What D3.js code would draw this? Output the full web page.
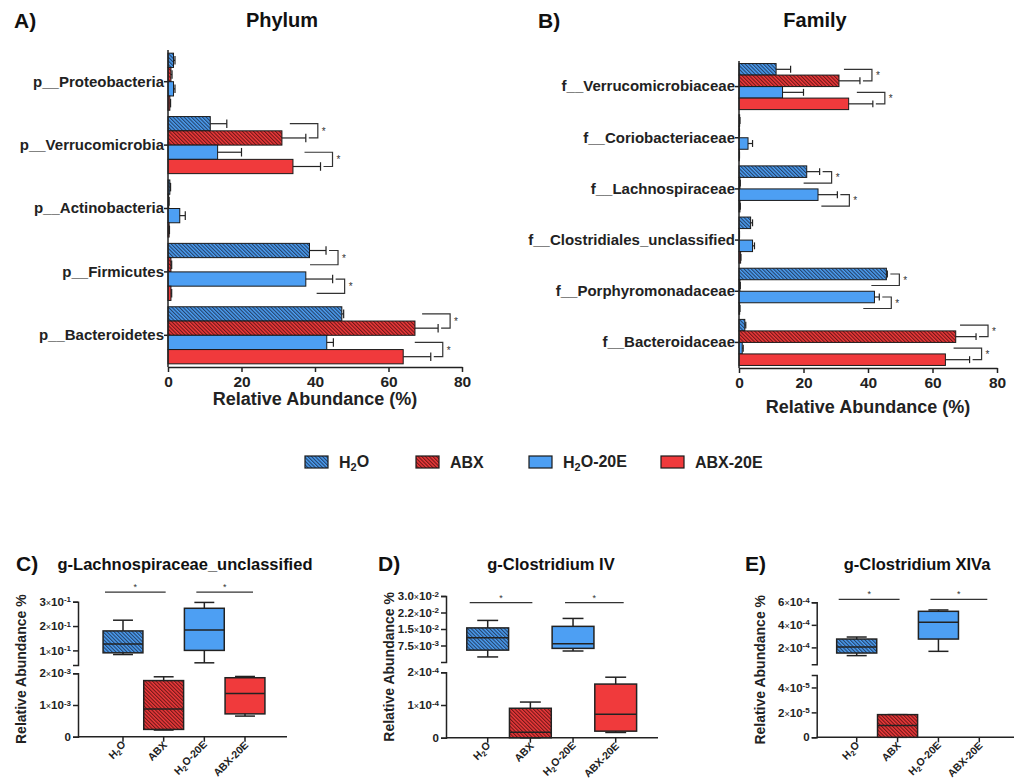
<!DOCTYPE html>
<html>
<head>
<meta charset="utf-8">
<title>Relative abundance</title>
<script src="https://d3js.org/d3.v7.min.js"></script>
<style>
  body { margin: 0; background: #fff; }
  svg { font-family: "Liberation Sans", Arial, sans-serif; }
  .axis path, .axis line { stroke: #222; stroke-width: 1.5; }
  .axis text { fill: #222; font-weight: bold; }
</style>
</head>
<body>
<svg id="fig" width="1014" height="783"></svg>
<script>
// ---- data ----
var groups = ["H2O", "ABX", "H2O-20E", "ABX-20E"];

var phyla = ["p__Proteobacteria", "p__Verrucomicrobia", "p__Actinobacteria", "p__Firmicutes", "p__Bacteroidetes"];
// rows = phyla, cols = groups (mean %)
var phylumMean = [
  [1.5, 0.8, 1.5, 0.5],
  [11.5, 31, 13.5, 34],
  [0.5, 0.2, 3.2, 0.3],
  [38.5, 0.8, 37.5, 0.8],
  [47.3, 67.2, 43.2, 64]
];
var phylumErr = [
  [0.4, 0.3, 0.4, 0.2],
  [4.5, 6.5, 6.5, 7.5],
  [0.2, 0.1, 1.5, 0.1],
  [4.5, 0.2, 7.3, 0.2],
  [0.5, 6.3, 1.8, 7.5]
];
// [category, group a, group b]
var phylumSig = [[1, 0, 1], [1, 2, 3], [3, 0, 1], [3, 2, 3], [4, 0, 1], [4, 2, 3]];

var families = ["f__Verrucomicrobiaceae", "f__Coriobacteriaceae", "f__Lachnospiraceae",
  "f__Clostridiales_unclassified", "f__Porphyromonadaceae", "f__Bacteroidaceae"];
var familyMean = [
  [11.5, 31, 13.5, 34],
  [0.2, 0.1, 2.8, 0.1],
  [21, 0.3, 24.5, 0.3],
  [3.6, 0.1, 4.2, 0.5],
  [45.7, 0.3, 42, 0.2],
  [1.8, 67.2, 1.0, 64]
];
var familyErr = [
  [4.5, 6.5, 6.5, 7.5],
  [0.1, 0.05, 1.4, 0.05],
  [4, 0.1, 6, 0.1],
  [0.6, 0.05, 0.6, 0.1],
  [0.3, 0.1, 1.5, 0.1],
  [0.3, 6.3, 0.3, 7.5]
];
var familySig = [[0, 0, 1], [0, 2, 3], [2, 0, 1], [2, 2, 3], [4, 0, 1], [4, 2, 3], [5, 0, 1], [5, 2, 3]];

var xTicks = [0, 20, 40, 60, 80];

// box stats per group: [min, q1, median, q3, max]
var lachnoBoxes = [
  [0.083, 0.090, 0.126, 0.180, 0.224],
  [0.00021, 0.00023, 0.00087, 0.00177, 0.00189],
  [0.049, 0.100, 0.184, 0.273, 0.297],
  [0.00065, 0.00072, 0.00136, 0.00186, 0.00190]
];
var clostIVBoxes = [
  [0.0023, 0.0054, 0.011, 0.0155, 0.0189],
  [0, 0, 0.000017, 0.00009, 0.000109],
  [0.005, 0.0062, 0.0083, 0.0162, 0.0198],
  [0.000016, 0.00002, 0.000072, 0.000164, 0.000185]
];
var clostXIVaBoxes = [
  [0.000127, 0.00015, 0.000204, 0.000274, 0.000292],
  [0, 0, 0.0000095, 0.0000182, 0.0000182],
  [0.000165, 0.000274, 0.000424, 0.00052, 0.000532],
  [0, 0, 0, 0, 0]
];
var segmentOf = ["top", "bottom", "top", "bottom"];

// tick values and labels [mantissa, exponent]
var lachnoTopTicks = [0.1, 0.2, 0.3];
var lachnoTopLabels = [["1", "-1"], ["2", "-1"], ["3", "-1"]];
var lachnoBotTicks = [0, 0.001, 0.002];
var lachnoBotLabels = [["0"], ["1", "-3"], ["2", "-3"]];
var clostIVTopTicks = [0.0075, 0.015, 0.0225, 0.03];
var clostIVTopLabels = [["7.5", "-3"], ["1.5", "-2"], ["2.2", "-2"], ["3.0", "-2"]];
var clostIVBotTicks = [0, 0.0001, 0.0002];
var clostIVBotLabels = [["0"], ["1", "-4"], ["2", "-4"]];
var clostXIVaTopTicks = [0.0002, 0.0004, 0.0006];
var clostXIVaTopLabels = [["2", "-4"], ["4", "-4"], ["6", "-4"]];
var clostXIVaBotTicks = [0, 0.00002, 0.00004];
var clostXIVaBotLabels = [["0"], ["2", "-5"], ["4", "-5"]];

// ---- styling ----
var BLUE = "#4d9ff3", RED = "#f03a3c";
var fills = ["url(#hatchBlue)", "url(#hatchRed)", BLUE, RED];

var svg = d3.select("#fig");
var defs = svg.append("defs");
function hatch(id, base, ink) {
  var p = defs.append("pattern").attr("id", id).attr("patternUnits", "userSpaceOnUse")
    .attr("width", 2.6).attr("height", 2.6).attr("patternTransform", "rotate(-45)");
  p.append("rect").attr("width", 2.6).attr("height", 2.6).attr("fill", base);
  p.append("line").attr("x1", 0.6).attr("x2", 0.6).attr("y1", 0).attr("y2", 2.6)
    .attr("stroke", ink).attr("stroke-width", 1);
}
hatch("hatchBlue", BLUE, "#1d3558");
hatch("hatchRed", RED, "#5e1212");

// write "H2O..." with subscript 2
function subLabel(text, s, subSize) {
  text.text(null);
  if (s.indexOf("H2O") === 0) {
    text.append("tspan").text("H");
    text.append("tspan").attr("dy", "0.3em").style("font-size", subSize).text("2");
    text.append("tspan").attr("dy", "-0.3em").text(s.slice(2));
  } else {
    text.text(s);
  }
}

function sciLabel(text, lab) {
  text.text(null);
  text.append("tspan").text(lab[0]);
  if (lab.length > 1) {
    text.append("tspan").style("font-size", "9px").style("font-weight", "normal").text("\u00d7");
    text.append("tspan").text("10");
    text.append("tspan").attr("dy", "-0.45em").style("font-size", "8px").text(lab[1]);
  }
}

function title(x, y, s, size, anchor) {
  svg.append("text").attr("x", x).attr("y", y).attr("text-anchor", anchor || "start")
    .style("font-size", size + "px").style("font-weight", "bold").attr("fill", "#111").text(s);
}

// ---- horizontal bar panels ----
function barPanel(cfg) {
  var x = d3.scaleLinear().domain([0, 80]).range([cfg.left, cfg.right]);
  var y = d3.scaleBand().domain(cfg.cats).range([cfg.top, cfg.bottom])
    .paddingInner(0.1).paddingOuter(0.05);
  var yi = d3.scaleBand().domain(d3.range(groups.length)).range([0, y.bandwidth()]);
  var g = svg.append("g");

  var rows = [];
  cfg.cats.forEach(function (c, i) {
    groups.forEach(function (s, j) {
      rows.push({ c: c, j: j, m: cfg.mean[i][j], e: cfg.err[i][j] });
    });
  });
  var h = yi.bandwidth();

  g.selectAll("rect.bar").data(rows).enter().append("rect").attr("class", "bar")
    .attr("x", x(0))
    .attr("y", function (d) { return y(d.c) + yi(d.j); })
    .attr("width", function (d) { return x(d.m) - x(0); })
    .attr("height", h)
    .attr("fill", function (d) { return fills[d.j]; })
    .attr("stroke", "#1a1a1a").attr("stroke-width", 1);

  g.selectAll("line.err").data(rows).enter().append("line").attr("class", "err")
    .attr("x1", function (d) { return x(d.m); })
    .attr("x2", function (d) { return x(d.m + d.e); })
    .attr("y1", function (d) { return y(d.c) + yi(d.j) + h / 2; })
    .attr("y2", function (d) { return y(d.c) + yi(d.j) + h / 2; })
    .attr("stroke", "#222").attr("stroke-width", 1.2);
  g.selectAll("line.cap").data(rows).enter().append("line").attr("class", "cap")
    .attr("x1", function (d) { return x(d.m + d.e); })
    .attr("x2", function (d) { return x(d.m + d.e); })
    .attr("y1", function (d) { return y(d.c) + yi(d.j) + h * 0.2; })
    .attr("y2", function (d) { return y(d.c) + yi(d.j) + h * 0.8; })
    .attr("stroke", "#222").attr("stroke-width", 1.2);

  // significance brackets
  cfg.sig.forEach(function (p) {
    var i = p[0], c = cfg.cats[i];
    var ya = y(c) + yi(p[1]) + h / 2, yb = y(c) + yi(p[2]) + h / 2;
    var ea = x(cfg.mean[i][p[1]] + cfg.err[i][p[1]]);
    var eb = x(cfg.mean[i][p[2]] + cfg.err[i][p[2]]);
    var vx = Math.max(ea, eb) + 12;
    var xa = Math.max(ea + 3, vx - 28), xb = Math.max(eb + 3, vx - 28);
    g.append("path").attr("d", "M" + xa + "," + ya + "H" + vx + "V" + yb + "H" + xb)
      .attr("fill", "none").attr("stroke", "#333").attr("stroke-width", 1.2);
    g.append("text").attr("x", vx + 4).attr("y", (ya + yb) / 2 + 4)
      .style("font-size", "10px").attr("fill", "#333").text("*");
  });

  g.append("g").attr("class", "axis").attr("transform", "translate(0," + cfg.bottom + ")")
    .call(d3.axisBottom(x).tickValues(xTicks).tickSize(5).tickSizeOuter(0).tickPadding(4))
    .selectAll("text").style("font-size", "15.5px");
  g.append("g").attr("class", "axis").attr("transform", "translate(" + x(0) + ",0)")
    .call(d3.axisLeft(y).tickSize(4).tickSizeOuter(0).tickPadding(0))
    .call(function (a) { a.select(".domain").attr("d", "M0," + cfg.top + "V" + cfg.bottom); })
    .selectAll("text").style("font-size", "15px");

  g.append("text").attr("x", (cfg.left + cfg.right) / 2).attr("y", cfg.labelY)
    .attr("text-anchor", "middle").style("font-size", "18px").style("font-weight", "bold")
    .attr("fill", "#222").text("Relative Abundance (%)");
}

barPanel({ cats: phyla, mean: phylumMean, err: phylumErr, sig: phylumSig,
  left: 168, right: 462, top: 50, bottom: 367, labelY: 405 });
barPanel({ cats: families, mean: familyMean, err: familyErr, sig: familySig,
  left: 739, right: 997, top: 61, bottom: 368, labelY: 413 });

title(14, 28, "A)", 21);
title(282, 27, "Phylum", 20, "middle");
title(538, 28, "B)", 21);
title(815, 27, "Family", 20, "middle");

// ---- legend ----
var legendX = [305, 416, 529, 661];
var legend = svg.append("g").attr("transform", "translate(0,462)");
groups.forEach(function (s, j) {
  legend.append("rect").attr("x", legendX[j]).attr("y", -6).attr("width", 23).attr("height", 12)
    .attr("fill", fills[j]).attr("stroke", "#1a1a1a").attr("stroke-width", 1.2);
  var t = legend.append("text").attr("x", legendX[j] + 34).attr("y", 6)
    .style("font-size", "16px").style("font-weight", "bold").attr("fill", "#222");
  subLabel(t, s, "11px");
});

// ---- box plot panels ----
function boxPanel(cfg) {
  var g = svg.append("g");
  var x = d3.scalePoint().domain(groups).range([cfg.firstX, cfg.lastX]);
  var yT = d3.scaleLinear().domain(cfg.topDomain).range(cfg.topRange);
  var yB = d3.scaleLinear().domain(cfg.botDomain).range(cfg.botRange);
  var scaleFor = function (j) { return segmentOf[j] === "top" ? yT : yB; };
  var bw = x.step() * 0.98;
  var axisY = cfg.botRange[0];

  // axes
  var topAx = g.append("g").attr("class", "axis").attr("transform", "translate(" + cfg.left + ",0)")
    .call(d3.axisLeft(yT).tickValues(cfg.topTicks).tickSize(5).tickSizeOuter(5).tickPadding(2));
  topAx.selectAll(".tick text").style("font-size", "11.5px")
    .each(function (d, i) { sciLabel(d3.select(this), cfg.topLabels[i]); });
  var botAx = g.append("g").attr("class", "axis").attr("transform", "translate(" + cfg.left + ",0)")
    .call(d3.axisLeft(yB).tickValues(cfg.botTicks).tickSize(5).tickSizeOuter(5).tickPadding(2));
  botAx.selectAll(".tick text").style("font-size", "11.5px")
    .each(function (d, i) { sciLabel(d3.select(this), cfg.botLabels[i]); });

  g.append("line").attr("x1", cfg.left).attr("x2", cfg.axisEnd).attr("y1", axisY).attr("y2", axisY)
    .attr("stroke", "#222").attr("stroke-width", 1.5);
  g.selectAll("line.xt").data(groups).enter().append("line").attr("class", "xt")
    .attr("x1", function (d) { return x(d); }).attr("x2", function (d) { return x(d); })
    .attr("y1", axisY).attr("y2", axisY + 5).attr("stroke", "#222").attr("stroke-width", 1.5);
  g.selectAll("text.xl").data(groups).enter().append("text").attr("class", "xl")
    .attr("transform", function (d) { return "translate(" + (x(d) + 4) + "," + (axisY + 9) + ") rotate(-45)"; })
    .attr("text-anchor", "end").style("font-size", "10.5px").style("font-weight", "bold").attr("fill", "#222")
    .each(function (d) { subLabel(d3.select(this), d, "7.5px"); });

  // boxes
  var data = groups.map(function (s, j) { return { s: s, j: j, b: cfg.boxes[j] }; })
    .filter(function (d) { return d.b[4] > 0; });
  var bx = g.selectAll("g.box").data(data).enter().append("g").attr("class", "box");
  bx.append("line")
    .attr("x1", function (d) { return x(d.s); }).attr("x2", function (d) { return x(d.s); })
    .attr("y1", function (d) { return scaleFor(d.j)(d.b[0]); })
    .attr("y2", function (d) { return scaleFor(d.j)(d.b[4]); })
    .attr("stroke", "#222").attr("stroke-width", 1.5);
  [0, 4].forEach(function (k) {
    bx.append("line")
      .attr("x1", function (d) { return x(d.s) - bw / 4; }).attr("x2", function (d) { return x(d.s) + bw / 4; })
      .attr("y1", function (d) { return scaleFor(d.j)(d.b[k]); })
      .attr("y2", function (d) { return scaleFor(d.j)(d.b[k]); })
      .attr("stroke", "#222").attr("stroke-width", 1.5);
  });
  bx.append("rect")
    .attr("x", function (d) { return x(d.s) - bw / 2; })
    .attr("y", function (d) { return scaleFor(d.j)(d.b[3]); })
    .attr("width", bw)
    .attr("height", function (d) { return scaleFor(d.j)(d.b[1]) - scaleFor(d.j)(d.b[3]); })
    .attr("fill", function (d) { return fills[d.j]; })
    .attr("stroke", "#222").attr("stroke-width", 1.5);
  bx.append("line")
    .attr("x1", function (d) { return x(d.s) - bw / 2; }).attr("x2", function (d) { return x(d.s) + bw / 2; })
    .attr("y1", function (d) { return scaleFor(d.j)(d.b[2]); })
    .attr("y2", function (d) { return scaleFor(d.j)(d.b[2]); })
    .attr("stroke", "#222").attr("stroke-width", 1.5);

  // significance lines
  var sy = yT(cfg.sigLevel);
  [[0, 1, -18, 2], [2, 3, -8, 8]].forEach(function (p) {
    var x1 = x(groups[p[0]]) + p[2], x2 = x(groups[p[1]]) + p[3];
    g.append("line").attr("x1", x1).attr("x2", x2).attr("y1", sy).attr("y2", sy)
      .attr("stroke", "#333").attr("stroke-width", 1.3);
    g.append("text").attr("x", (x1 + x2) / 2).attr("y", sy - 2).attr("text-anchor", "middle")
      .style("font-size", "9px").attr("fill", "#333").text("*");
  });

  var my = (cfg.topRange[1] + cfg.botRange[0]) / 2;
  g.append("text").attr("transform", "translate(" + (cfg.left - 52) + "," + my + ") rotate(-90)")
    .attr("text-anchor", "middle").style("font-size", "14px").style("font-weight", "bold")
    .attr("fill", "#222").text("Relative Abundance %");

  title(cfg.letterX, 571, cfg.letter, 21);
  title(cfg.titleX, 570, cfg.title, 16.5, "middle");
}

boxPanel({ boxes: lachnoBoxes, letter: "C)", letterX: 16, title: "g-Lachnospiraceae_unclassified", titleX: 185,
  left: 78, axisEnd: 287, firstX: 123, lastX: 245,
  topDomain: [0.04, 0.3], topRange: [665, 601.7], topTicks: lachnoTopTicks, topLabels: lachnoTopLabels,
  botDomain: [0, 0.002], botRange: [736.7, 673.3], botTicks: lachnoBotTicks, botLabels: lachnoBotLabels,
  sigLevel: 0.339 });
boxPanel({ boxes: clostIVBoxes, letter: "D)", letterX: 378, title: "g-Clostridium IV", titleX: 551,
  left: 446, axisEnd: 658, firstX: 487.7, lastX: 615.7,
  topDomain: [0, 0.03], topRange: [662, 596], topTicks: clostIVTopTicks, topLabels: clostIVTopLabels,
  botDomain: [0, 0.0002], botRange: [737.7, 672.3], botTicks: clostIVBotTicks, botLabels: clostIVBotLabels,
  sigLevel: 0.027 });
boxPanel({ boxes: clostXIVaBoxes, letter: "E)", letterX: 745, title: "g-Clostridium XIVa", titleX: 917,
  left: 816.7, axisEnd: 1020, firstX: 856.7, lastX: 979.3,
  topDomain: [0.00005, 0.0006], topRange: [664.3, 602.3], topTicks: clostXIVaTopTicks, topLabels: clostXIVaTopLabels,
  botDomain: [0, 0.00005], botRange: [737.3, 675], botTicks: clostXIVaBotTicks, botLabels: clostXIVaBotLabels,
  sigLevel: 0.000626 });
</script>
</body>
</html>
